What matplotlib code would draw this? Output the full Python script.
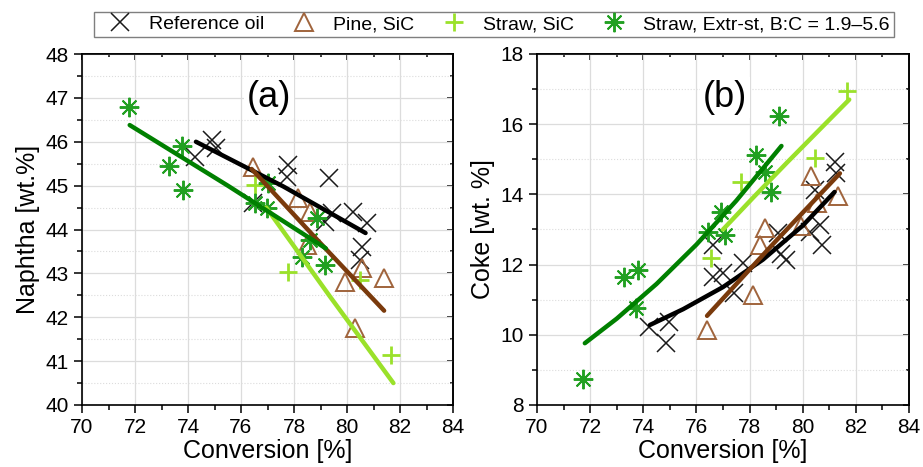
import matplotlib
matplotlib.use("Agg")
import matplotlib.pyplot as plt
from matplotlib.ticker import MultipleLocator
from matplotlib.lines import Line2D

plt.rcParams['font.family'] = ['Liberation Sans', 'DejaVu Sans']

# Naphtha yield vs conversion
ref_conv_a = [74.26, 74.9, 75.05, 76.47, 77.79, 77.72, 79.32, 79.42, 79.17, 80.24, 80.74, 80.55, 80.5]
ref_naph = [45.66, 46.05, 45.85, 44.6, 45.47, 45.2, 45.18, 44.37, 44.18, 44.41, 44.14, 43.61, 43.3]
pine_conv_a = [76.47, 78.16, 78.6, 78.48, 79.92, 80.55, 81.41, 80.3]
pine_naph = [45.43, 44.71, 44.39, 43.65, 42.81, 43.12, 42.89, 41.75]
straw_conv_a = [76.53, 77.79, 80.49, 81.67]
straw_naph = [45.02, 43.04, 42.85, 41.15]
extr_conv_a = [71.78, 73.76, 73.29, 73.8, 76.53, 76.97, 77.03, 78.86, 78.6, 78.29, 79.17]
extr_naph = [46.8, 45.9, 45.45, 44.9, 44.6, 44.48, 45.05, 44.26, 43.76, 43.38, 43.19]

# Coke yield vs conversion
ref_conv_b = [74.23, 74.86, 74.98, 76.62, 76.99, 77.43, 77.75, 76.62, 79.07, 79.2, 79.38,
              80.26, 80.64, 80.74, 80.45, 81.21, 81.27]
ref_coke = [10.23, 9.76, 10.37, 11.66, 11.75, 11.18, 12.04, 12.56, 12.89, 12.3, 12.13,
            12.94, 13.13, 12.56, 14.13, 14.93, 14.6]
pine_conv_b = [76.38, 78.14, 78.39, 78.58, 79.95, 80.31, 80.52, 81.31]
pine_coke = [10.14, 11.14, 12.57, 13.05, 13.09, 14.52, 13.76, 13.95]
straw_conv_b = [76.55, 77.69, 80.45, 81.68]
straw_coke = [12.18, 14.36, 15.03, 16.95]
extr_conv_b = [71.75, 73.29, 73.79, 73.73, 76.43, 77.06, 76.93, 78.25, 78.57, 78.82, 79.1]
extr_coke = [8.73, 11.65, 11.86, 10.76, 12.94, 12.84, 13.51, 15.12, 14.65, 14.08, 16.24]

# trend lines
fit_ref_a = ([74.3, 77.6, 80.7], [46.0, 44.98, 43.92])
fit_pine_a = ([76.4, 78.9, 81.4], [45.38, 43.75, 42.15])
fit_straw_a = ([76.95, 78.2, 79.36, 80.6, 81.75], [44.5, 43.45, 42.47, 41.45, 40.5])
fit_extr_a = ([71.8, 75.5, 79.2], [46.38, 45.0, 43.57])
fit_ref_b = ([74.25, 75.5, 77.0, 78.5, 80.0, 81.2], [10.28, 10.73, 11.36, 12.14, 13.11, 14.07])
fit_pine_b = ([76.4, 78.9, 81.4], [10.54, 12.6, 14.6])
fit_straw_b = ([77.0, 78.2, 79.4, 80.6, 81.75], [13.0, 13.96, 14.9, 15.82, 16.7])
fit_extr_b = ([71.8, 73.0, 74.5, 76.0, 77.5, 79.2], [9.76, 10.46, 11.45, 12.57, 13.82, 15.38])

labels = ["Reference oil", "Pine, SiC", "Straw, SiC", "Straw, Extr-st, B:C = 1.9\u20135.6"]

c_ref = 'black'
c_pine_m, c_pine_l = '#a0643c', '#7a3a0c'
c_straw = '#9ae12a'
c_extr_m, c_extr_l = '#22a022', '#008000'

mk = dict(linestyle='none')
sty_ref = dict(marker='x', ms=13, mew=1.1, color='#1a1a1a', **mk)
sty_pine = dict(marker='^', ms=13, mew=1.4, mfc='none', mec=c_pine_m, **mk)
sty_straw = dict(marker='+', ms=13.5, mew=2.0, color=c_straw, **mk)
sty_extr = dict(marker=(8, 2, 0), ms=14, mew=1.4, color=c_extr_m, **mk)

W, H = 923, 467
fig = plt.figure(figsize=(W / 100, H / 100), dpi=100)
ax_a = fig.add_axes([82 / W, (H - 405) / H, 371 / W, 351 / H])
ax_b = fig.add_axes([537 / W, (H - 405) / H, 372 / W, 351 / H])


def draw(ax, data, fits):
    for (x, y), sty in zip(data, [sty_ref, sty_pine, sty_straw, sty_extr]):
        ax.plot(x, y, zorder=3, **sty)
    for (x, y), col in zip(fits, [c_ref, c_pine_l, c_straw, c_extr_l]):
        ax.plot(x, y, color=col, lw=3.2, solid_capstyle='round', solid_joinstyle='round', zorder=4)


draw(ax_a,
     [(ref_conv_a, ref_naph), (pine_conv_a, pine_naph), (straw_conv_a, straw_naph), (extr_conv_a, extr_naph)],
     [fit_ref_a, fit_pine_a, fit_straw_a, fit_extr_a])
draw(ax_b,
     [(ref_conv_b, ref_coke), (pine_conv_b, pine_coke), (straw_conv_b, straw_coke), (extr_conv_b, extr_coke)],
     [fit_ref_b, fit_pine_b, fit_straw_b, fit_extr_b])

ax_a.set_ylim(40, 48)
ax_a.yaxis.set_major_locator(MultipleLocator(1))
ax_a.yaxis.set_minor_locator(MultipleLocator(0.5))
ax_a.set_ylabel("Naphtha [wt.%]", fontsize=18, labelpad=4)

ax_b.set_ylim(8, 18)
ax_b.yaxis.set_major_locator(MultipleLocator(2))
ax_b.yaxis.set_minor_locator(MultipleLocator(1))
ax_b.set_ylabel("Coke [wt. %]", fontsize=18, labelpad=4)

for ax, tag in [(ax_a, "(a)"), (ax_b, "(b)")]:
    ax.set_xlim(70, 84)
    ax.xaxis.set_major_locator(MultipleLocator(2))
    ax.xaxis.set_minor_locator(MultipleLocator(1))
    ax.set_xlabel("Conversion [%]", fontsize=18, labelpad=1)
    ax.set_axisbelow(True)
    ax.grid(which='major', color='#dcdcdc', lw=0.9)
    ax.grid(which='minor', axis='y', color='#dcdcdc', lw=0.8, ls=':')
    ax.tick_params(which='both', direction='out', labelsize=15, width=1.1)
    ax.tick_params(which='major', length=6)
    ax.tick_params(which='minor', length=3.5)
    for s in ax.spines.values():
        s.set_linewidth(1.2)
    # inward ticks on the top and right edges
    top = ax.secondary_xaxis('top')
    top.xaxis.set_major_locator(MultipleLocator(2))
    top.xaxis.set_minor_locator(MultipleLocator(1))
    right = ax.secondary_yaxis('right')
    right.yaxis.set_major_locator(ax.yaxis.get_major_locator())
    right.yaxis.set_minor_locator(ax.yaxis.get_minor_locator())
    for sec in (top, right):
        sec.tick_params(which='both', direction='in', labeltop=False, labelright=False, width=1.1)
        sec.tick_params(which='major', length=4.5)
        sec.tick_params(which='minor', length=2.5)
        for s in sec.spines.values():
            s.set_linewidth(1.2)
    ax.text(0.505, 0.875, tag, transform=ax.transAxes, ha='center', va='center', fontsize=26,
            bbox=dict(facecolor='white', edgecolor='none', pad=2), zorder=5)

handles = [Line2D([], [], **sty_ref), Line2D([], [], **sty_pine),
           Line2D([], [], **sty_straw), Line2D([], [], **sty_extr)]
leg = fig.legend(handles, labels, loc='center', bbox_to_anchor=(494 / W, (H - 24.5) / H),
                 ncol=4, fontsize=14, frameon=True, fancybox=False, framealpha=1,
                 edgecolor='#7f7f7f', borderpad=0.2, handlelength=2.2, handletextpad=0.4,
                 columnspacing=0.95, borderaxespad=0)
leg.get_frame().set_linewidth(1.0)

fig.savefig("out.png", dpi=100)
